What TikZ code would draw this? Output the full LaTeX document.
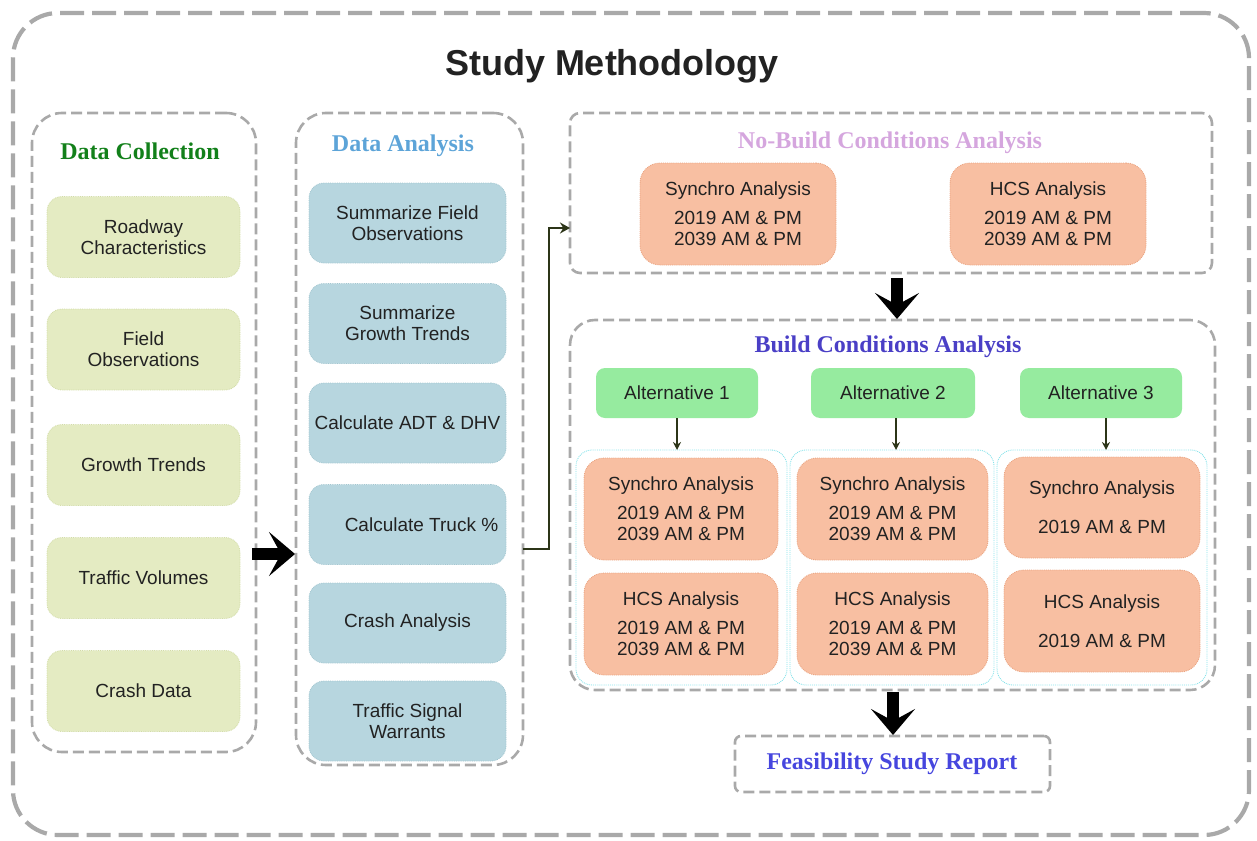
\documentclass[tikz,border=0pt]{standalone}
\usepackage{fontspec}
\setmainfont{Liberation Sans}
\newfontfamily\serifb{Liberation Serif}
\usetikzlibrary{arrows.meta}
\definecolor{dashgray}{HTML}{A9A9A9}
\definecolor{dcfill}{HTML}{E4EBC2}
\definecolor{dcline}{HTML}{D2DCA8}
\definecolor{dafill}{HTML}{B7D6DF}
\definecolor{daline}{HTML}{A2C6D0}
\definecolor{salfill}{HTML}{F8BFA2}
\definecolor{salline}{HTML}{EAA582}
\definecolor{altfill}{HTML}{96EB9F}
\definecolor{cyanline}{HTML}{86E2EA}
\definecolor{olive}{HTML}{2C3518}
\definecolor{dcgreen}{HTML}{12801A}
\definecolor{dablue}{HTML}{5DA4D8}
\definecolor{nbpink}{HTML}{D5A6DE}
\definecolor{bdblue}{HTML}{4A3FC6}
\definecolor{fsblue}{HTML}{4646DE}
\definecolor{txt}{HTML}{222222}
\begin{document}
\begin{tikzpicture}[x=1pt,y=-1pt,
  every node/.style={inner sep=0pt, outer sep=0pt, text=txt},
  body/.style={font=\fontsize{19}{21}\selectfont, align=center},
  dashbox/.style={draw=dashgray, line width=2.6pt, dash pattern=on 11pt off 5pt},
  colbox/.style={dashbox, rounded corners=30pt},
  dcbox/.style={body, fill=dcfill, draw=dcline, densely dotted, line width=0.8pt, rounded corners=15pt, minimum width=193pt, minimum height=81pt},
  dabox/.style={body, fill=dafill, draw=daline, densely dotted, line width=0.8pt, rounded corners=15pt, minimum width=197pt, minimum height=80pt},
  salbox/.style={body, fill=salfill, draw=salline, densely dotted, line width=0.9pt, rounded corners=20pt},
  altbox/.style={body, fill=altfill, rounded corners=9pt, minimum height=50pt},
  grpbox/.style={draw=cyanline, densely dotted, line width=0.9pt, rounded corners=16pt},
  ttl/.style={font=\serifb\bfseries\fontsize{24}{27}\selectfont},
  blockR/.style={line width=12pt, -{Stealth[length=26pt,width=44pt,inset=12pt]}},
  smallarr/.style={draw=olive, line width=1.6pt, -{Stealth[length=8pt,width=8pt]}},
  conn/.style={draw=olive, line width=2.4pt, -{Stealth[length=10pt,width=11pt]}}
]
\useasboundingbox (0,0) rectangle (1257,840);
% outer
\node[draw=dashgray, line width=4.2pt, dash pattern=on 24pt off 8pt, rounded corners=45pt, minimum width=1236pt, minimum height=822pt] (outer) at (631,424) {};
\node[font=\bfseries\fontsize{36}{40}\selectfont] (title) at (612,66) {Study Methodology};

% Data collection column
\node[colbox, minimum width=224pt, minimum height=639pt] (dc) at (144,432.5) {};
\node[ttl, text=dcgreen] (dct) at (140,151) {Data Collection};
\node[dcbox] (dc1) at (143.5,237) {Roadway\\Characteristics};
\node[dcbox] (dc2) at (143.5,349.5) {Field\\Observations};
\node[dcbox] (dc3) at (143.5,465) {Growth Trends};
\node[dcbox] (dc4) at (143.5,578) {Traffic Volumes};
\node[dcbox] (dc5) at (143.5,691) {Crash Data};

% Data analysis column
\node[colbox, minimum width=227pt, minimum height=652pt] (da) at (409.5,439) {};
\node[ttl, text=dablue] (dat) at (403,146) {Data Analysis};
\node[dabox] (da1) at (407.5,223) {Summarize Field\\Observations};
\node[dabox] (da2) at (407.5,323.5) {Summarize\\Growth Trends};
\node[dabox] (da3) at (407.5,423) {Calculate ADT \& DHV};
\node[dabox] (da4) at (407.5,524.5) {\hspace*{28pt}Calculate Truck \%};
\node[dabox] (da5) at (407.5,623) {Crash Analysis};
\node[dabox] (da6) at (407.5,721) {Traffic Signal\\Warrants};

% No-build
\node[dashbox, rounded corners=10pt, minimum width=642pt, minimum height=160pt] (nb) at (891,193) {};
\node[ttl, text=nbpink] (nbt) at (890,143) {No-Build Conditions Analysis};
\node[salbox, minimum width=196pt, minimum height=102pt] (nbs) at (738,214) {Synchro Analysis\\[8pt]2019 AM \& PM\\2039 AM \& PM};
\node[salbox, minimum width=196pt, minimum height=102pt] (nbh) at (1048,214) {HCS Analysis\\[8pt]2019 AM \& PM\\2039 AM \& PM};

% Build
\node[dashbox, rounded corners=25pt, minimum width=645pt, minimum height=370pt] (bd) at (892.5,505) {};
\node[ttl, text=bdblue] (bdt) at (888,347) {Build Conditions Analysis};
\node[altbox, minimum width=162pt] (a1) at (677,393) {Alternative 1};
\node[altbox, minimum width=164pt] (a2) at (893,393) {Alternative 2};
\node[altbox, minimum width=162pt] (a3) at (1101,393) {Alternative 3};
\node[grpbox, minimum width=211pt, minimum height=235pt] (g1) at (681.5,567.5) {};
\node[grpbox, minimum width=204pt, minimum height=235pt] (g2) at (892,567.5) {};
\node[grpbox, minimum width=210pt, minimum height=235pt] (g3) at (1102,567.5) {};
\node[salbox, minimum width=194pt, minimum height=102pt] (s1) at (681,509) {Synchro Analysis\\[8pt]2019 AM \& PM\\2039 AM \& PM};
\node[salbox, minimum width=194pt, minimum height=102pt] (h1) at (681,624) {HCS Analysis\\[8pt]2019 AM \& PM\\2039 AM \& PM};
\node[salbox, minimum width=191pt, minimum height=102pt] (s2) at (892.5,509) {Synchro Analysis\\[8pt]2019 AM \& PM\\2039 AM \& PM};
\node[salbox, minimum width=191pt, minimum height=102pt] (h2) at (892.5,624) {HCS Analysis\\[8pt]2019 AM \& PM\\2039 AM \& PM};
\node[salbox, minimum width=196pt, minimum height=101pt] (s3) at (1102,507.5) {Synchro Analysis\\[18pt]2019 AM \& PM};
\node[salbox, minimum width=196pt, minimum height=102pt] (h3) at (1102,621) {HCS Analysis\\[18pt]2019 AM \& PM};

% Feasibility
\node[dashbox, rounded corners=6pt, minimum width=315pt, minimum height=56pt] (fs) at (892.5,764) {};
\node[ttl, text=fsblue] (fst) at (892,764) {Feasibility Study Report};

% connectors
\draw[blockR] ([xshift=-4pt]dc.east |- 0,554) -- ([xshift=-1pt]da.west |- 0,554);
\draw[conn] (da.east |- 0,549) -- (549,549) |- (nb.west |- 0,228);
\draw[blockR] ([yshift=-5pt]nb.south -| 897,0) -- ([yshift=1pt]bd.north -| 897,0);
\draw[blockR] ([yshift=-2pt]bd.south -| 893,0) -- ([yshift=1pt]fs.north -| 893,0);
\draw[smallarr] (a1.south) -- (a1.south |- g1.north);
\draw[smallarr] ([xshift=3pt]a2.south) -- ([xshift=3pt]a2.south |- g2.north);
\draw[smallarr] ([xshift=5pt]a3.south) -- ([xshift=5pt]a3.south |- g3.north);
\end{tikzpicture}
\end{document}
